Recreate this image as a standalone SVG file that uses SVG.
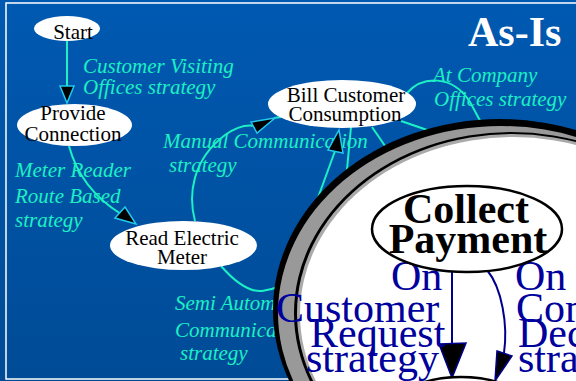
<svg xmlns="http://www.w3.org/2000/svg" width="576" height="381" viewBox="0 0 576 381">
<defs>
<linearGradient id="bg" x1="0" y1="0" x2="0" y2="1">
<stop offset="0" stop-color="#0059B1"/>
<stop offset="1" stop-color="#004B96"/>
</linearGradient>
<style>
.node ellipse{fill:#fff;stroke:none}
.ntxt{font-family:"Liberation Serif","Times New Roman",serif;font-size:21px;fill:#000;text-anchor:middle}
.lbl{font-family:"Liberation Serif","Times New Roman",serif;font-style:italic;font-size:21px;fill:#1CF0C4}
.edge{fill:none;stroke:#1CF0C4;stroke-width:2}
.ahead{fill:#000;stroke:#22C8EE;stroke-width:1.5;stroke-linejoin:miter}
.big ellipse{fill:#fff;stroke:#000;stroke-width:2.5}
.btxt{font-family:"Liberation Serif","Times New Roman",serif;font-weight:bold;font-size:42px;fill:#000;text-anchor:middle}
.nlbl{font-family:"Liberation Serif","Times New Roman",serif;font-size:42px;fill:#00009C}
.nedge{fill:none;stroke:#00008C;stroke-width:2}
.nhead{fill:#000;stroke:#00008C;stroke-width:1.5}
</style>
</defs>
<rect x="0" y="0" width="576" height="381" fill="url(#bg)"/>
<rect x="6" y="3" width="600" height="376" fill="none" stroke="#fff" stroke-width="1.5"/>
<text x="468" y="46" font-family="Liberation Serif,Times New Roman,serif" font-weight="bold" font-size="42" fill="#fff">As-Is</text>

<g id="labels">
<text class="lbl" x="83" y="73">Customer Visiting</text>
<text class="lbl" x="83" y="94">Offices strategy</text>
<text class="lbl" x="15" y="177">Meter Reader</text>
<text class="lbl" x="15" y="203">Route Based</text>
<text class="lbl" x="15" y="227">strategy</text>
<text class="lbl" x="163" y="148">Manual Communication</text>
<text class="lbl" x="169" y="172">strategy</text>
<text class="lbl" x="175" y="310">Semi Automatic</text>
<text class="lbl" x="175" y="337">Communication</text>
<text class="lbl" x="180" y="360">strategy</text>
<text class="lbl" x="433" y="82">At Company</text>
<text class="lbl" x="434" y="106">Offices strategy</text>
</g>

<g id="connectors">
<path class="edge" d="M67,41 L67,88"/>
<polygon class="ahead" points="60,86 74,86 67,103"/>
<path class="edge" d="M69,146 C 76,172 92,196 121,214"/>
<polygon class="ahead" points="115,218 125,207 136,224"/>
<path class="edge" d="M195,221 C 188,195 192,160 225,135 C 235,128 245,124 255,126 M274,118 L281,117"/>
<polygon class="ahead" points="251,122 257,133 275,118"/>
<path class="edge" d="M221,266 C 235,282 250,292 262,291 C 268,290 276,288 284,285"/>
<path class="edge" d="M308,225 L335,151"/>
<polygon class="ahead" points="328,150 343,153 339,130"/>
<path class="edge" d="M351,127 L346,180"/>
<path class="edge" d="M372,127 L392,156"/>
<path class="edge" d="M401,121 L436,133"/>
<path class="edge" d="M407,93 C 422,76 452,74 470,102 L 484,128"/>
</g>

<g id="start" class="node">
<ellipse cx="67" cy="28.5" rx="33" ry="12.5"/>
<text class="ntxt" x="73" y="39">Start</text>
</g>
<g id="provide" class="node">
<ellipse cx="74.5" cy="125" rx="57.5" ry="21"/>
<text class="ntxt" x="73" y="120">Provide</text>
<text class="ntxt" x="73" y="141">Connection</text>
</g>
<g id="read" class="node">
<ellipse cx="183.5" cy="245.5" rx="73.5" ry="24.5"/>
<text class="ntxt" x="182" y="245">Read Electric</text>
<text class="ntxt" x="182" y="264">Meter</text>
</g>
<g id="bill" class="node">
<ellipse cx="342" cy="104" rx="74" ry="24"/>
<text class="ntxt" x="346" y="102">Bill Customer</text>
<text class="ntxt" x="345" y="121">Consumption</text>
</g>

<g id="lens">
<ellipse cx="500" cy="310" rx="227" ry="191" fill="#000"/>
<ellipse cx="501" cy="313" rx="223" ry="187" fill="#999"/>
<ellipse cx="511" cy="313" rx="217" ry="181" fill="#000"/>
<ellipse cx="512" cy="313" rx="215" ry="179" fill="#aaa"/>
<ellipse cx="513" cy="314" rx="213" ry="177" fill="#fff"/>
</g>

<g id="lens-connectors">
<path class="nedge" d="M452,272 L452,346"/>
<polygon class="nhead" points="439,344 466,343 452,378"/>
<path class="nedge" d="M487,270 C 502,288 508,325 504,353"/>
<polygon class="nhead" points="497,351 512,356 495,381"/>
</g>

<g id="lens-labels">
<text class="nlbl" x="391" y="290">On</text>
<text class="nlbl" x="276" y="322">Customer</text>
<text class="nlbl" x="310" y="347">Request</text>
<text class="nlbl" x="306" y="372">strategy</text>
<text class="nlbl" x="515" y="290">On</text>
<text class="nlbl" x="516" y="322">Company</text>
<text class="nlbl" x="518" y="347">Decision</text>
<text class="nlbl" x="518" y="372">strategy</text>
</g>

<g id="collect" class="big">
<ellipse cx="467" cy="229" rx="95" ry="43"/>
<text class="btxt" x="466" y="223">Collect</text>
<text class="btxt" x="468" y="253">Payment</text>
</g>
<g id="next" class="big">
<ellipse cx="461" cy="412" rx="70" ry="35"/>
</g>
</svg>
